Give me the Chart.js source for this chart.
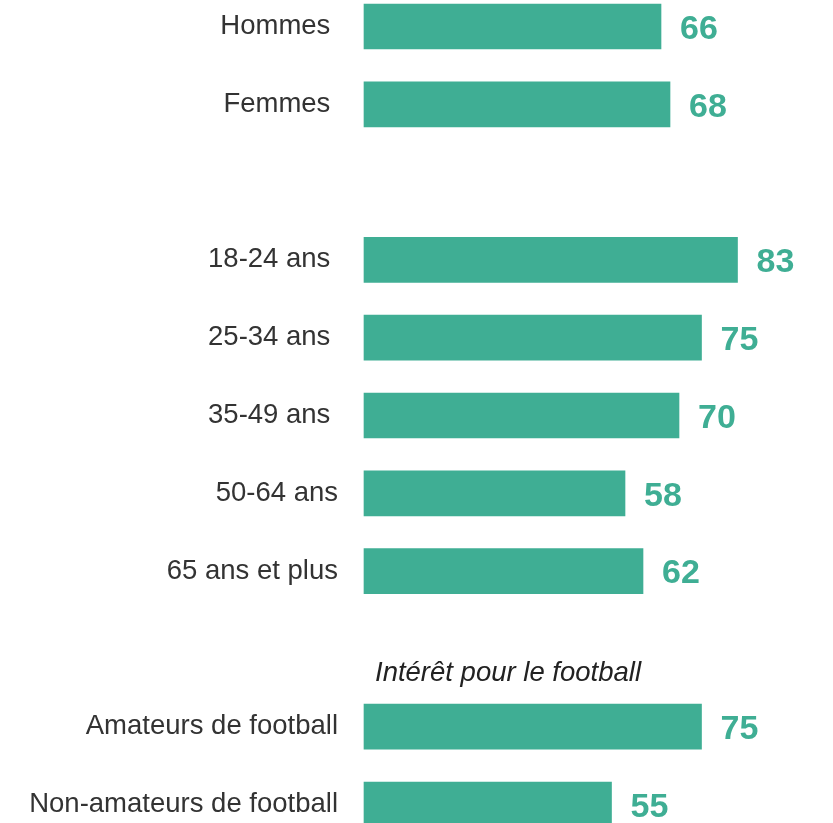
<!DOCTYPE html>
<html>
<head>
<meta charset="utf-8">
<script src="https://cdn.jsdelivr.net/npm/chart.js@4/dist/chart.umd.min.js"></script>
<style>
  html, body { margin: 0; padding: 0; background: #ffffff; }
  #wrap { width: 833px; height: 823px; position: relative; }
</style>
</head>
<body>
<div id="wrap"><canvas id="c"></canvas></div>
<script>
const categories = ['Hommes ', 'Femmes ', '', '18-24 ans ', '25-34 ans ', '35-49 ans ', '50-64 ans', '65 ans et plus', '', 'Amateurs de football', 'Non-amateurs de football'];
const values = [66, 68, null, 83, 75, 70, 58, 62, null, 75, 55];
const sectionHeaders = [{ index: 8, text: 'Intérêt pour le football' }];
const xTicks = { min: 0, max: 100 };

const FONT = '"Liberation Sans", Arial, Helvetica, sans-serif';
const TEAL = '#3fae94';

const labelPlugin = {
  id: 'valueLabels',
  afterDatasetsDraw(chart) {
    const ctx = chart.ctx;
    const meta = chart.getDatasetMeta(0);
    ctx.save();
    ctx.font = 'bold 34px ' + FONT;
    ctx.fillStyle = TEAL;
    ctx.textAlign = 'left';
    ctx.textBaseline = 'middle';
    meta.data.forEach((bar, i) => {
      const v = values[i];
      if (v === null || v === undefined) return;
      ctx.fillText(String(v), bar.x + 19, bar.y + 3);
    });
    const ys = chart.scales.y, xs = chart.scales.x;
    ctx.font = 'italic 27.5px ' + FONT;
    ctx.fillStyle = '#222222';
    sectionHeaders.forEach(h => {
      const y0 = ys.getPixelForValue(h.index);
      const y1 = ys.getPixelForValue(h.index + 1);
      ctx.fillText(h.text, xs.getPixelForValue(0) + 11, y0 + 0.31 * (y1 - y0));
    });
    ctx.restore();
  }
};

new Chart(document.getElementById('c'), {
  type: 'bar',
  data: {
    labels: categories,
    datasets: [{
      data: values,
      backgroundColor: TEAL,
      borderWidth: 0,
      barThickness: 45,
      clip: false
    }]
  },
  options: {
    indexAxis: 'y',
    responsive: true,
    maintainAspectRatio: false,
    animation: false,
    layout: { padding: { top: 26.5, bottom: 18.5, left: 0, right: 19 } },
    plugins: { legend: { display: false }, tooltip: { enabled: false } },
    scales: {
      x: {
        display: false,
        min: xTicks.min,
        max: xTicks.max
      },
      y: {
        offset: false,
        grid: { display: false, drawTicks: false },
        border: { display: false },
        ticks: {
          color: '#333333',
          font: { family: FONT, size: 27.5 },
          padding: 26,
          autoSkip: false
        },
        afterFit(scale) {
          scale.width = 364;
          scale.paddingTop = 0;
          scale.paddingBottom = 0;
        }
      }
    }
  },
  plugins: [labelPlugin]
});
</script>
</body>
</html>
